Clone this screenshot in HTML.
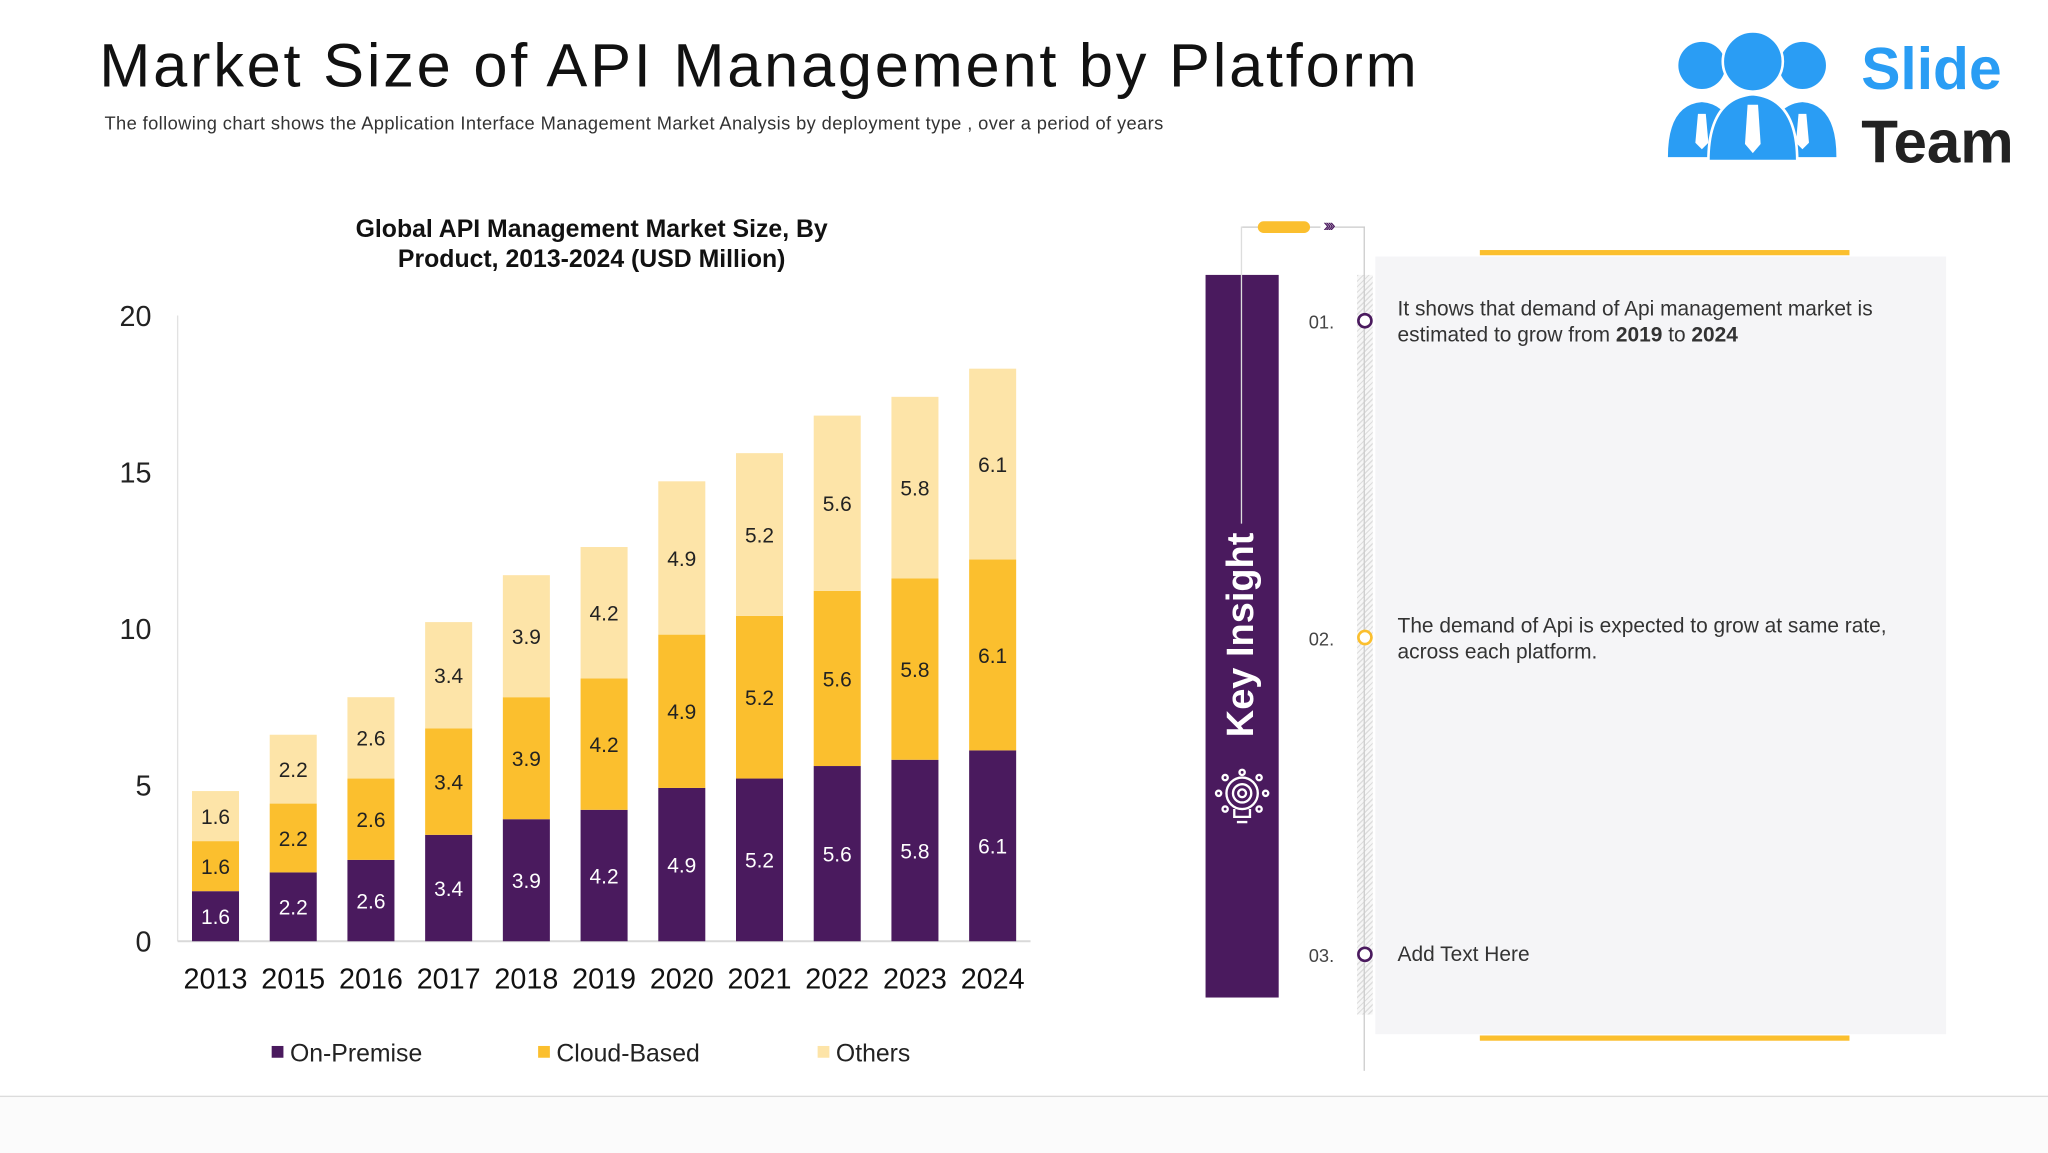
<!DOCTYPE html>
<html><head><meta charset="utf-8">
<style>
html,body{margin:0;padding:0;background:#fff;}
body{width:2048px;height:1152px;overflow:hidden;position:relative;font-family:"Liberation Sans",sans-serif;}
#stage{position:absolute;left:0;top:0;width:1568px;height:880px;transform:scale(1.30612,1.30909);transform-origin:0 0;}
.abs{position:absolute;}
</style></head>
<body>
<div id="stage">
  <div class="abs" style="left:0;top:837px;width:1568px;height:43px;background:#fbfbfb;border-top:1px solid #dcdcdc;"></div>
  <div class="abs" style="left:76px;top:22px;font-size:47px;color:#111;white-space:nowrap;letter-spacing:2.1px;">Market Size of API Management by Platform</div>
  <div class="abs" style="left:80px;top:86px;font-size:14px;color:#333;white-space:nowrap;letter-spacing:0.3px;">The following chart shows the Application Interface Management Market Analysis by deployment type , over a period of years</div>

  <svg class="abs" style="left:1270px;top:20px;" width="290" height="115" viewBox="0 0 290 115">
    <g fill="#2a9df4">
      <circle cx="33" cy="30" r="18"/><circle cx="110" cy="30" r="18"/>
      <path d="M7 100 Q7 60 33 58 Q59 60 59 100 Z"/><path d="M84 100 Q84 60 110 58 Q136 60 136 100 Z"/>
      <circle cx="72" cy="27" r="23" stroke="#fff" stroke-width="2"/>
      <path d="M38 103 Q38 55 72 52 Q106 55 106 103 Z" stroke="#fff" stroke-width="2"/>
    </g>
    <g fill="#fff"><path d="M68 60 h8 l2 30 -6 7 -6 -7 z"/><path d="M30 67 h6 l2 22 -5 5 -5 -5 z"/><path d="M107 67 h6 l2 22 -5 5 -5 -5 z"/></g>
    <text x="155" y="48" font-family="Liberation Sans" font-weight="bold" font-size="45" fill="#2a9df4">Slide</text>
    <text x="155" y="104" font-family="Liberation Sans" font-weight="bold" font-size="46" fill="#222">Team</text>
  </svg>

  <div class="abs" style="left:203px;top:164px;width:500px;text-align:center;font-size:19px;font-weight:bold;line-height:23px;color:#111;">Global API Management Market Size, By<br>Product, 2013-2024 (USD Million)</div>

  <svg id="chart" class="abs" style="left:0;top:0;" width="900" height="840"></svg>

  <div class="abs" style="left:1053px;top:196px;width:437px;height:594px;background:#f5f5f7;"></div>
  <div class="abs" style="left:1133px;top:191px;width:283px;height:4px;background:#fbbf2e;"></div>
  <div class="abs" style="left:1133px;top:791px;width:283px;height:4px;background:#fbbf2e;"></div>
  <div class="abs" style="left:923px;top:210px;width:56px;height:552px;background:#4a1a5e;"></div>
  <div class="abs" style="left:951px;top:173px;width:94px;height:0;border-top:1px solid #ccc;"></div>
  <div class="abs" style="left:950px;top:173px;width:1px;height:227px;background:#ddd;"></div>
  <div class="abs" style="left:1039px;top:210px;width:12px;height:565px;background:repeating-linear-gradient(135deg,#ddd 0 1px,#f7f7f7 1px 3px);"></div>
  <div class="abs" style="left:1044px;top:173px;width:1px;height:645px;background:#ccc;"></div>
  <div class="abs" style="left:963px;top:169px;width:40px;height:9px;border-radius:5px;background:#fbbf2e;"></div>
  <div class="abs" style="left:1011px;top:164px;font-size:14px;line-height:16px;background:#fff;padding:0 2px;color:#4a1a5e;letter-spacing:-3px;">››››</div>
  <div class="abs" style="left:951px;top:485px;transform:translate(-50%,-50%) rotate(-90deg);white-space:nowrap;color:#fff;font-weight:bold;font-size:29px;">Key Insight</div>
  <svg class="abs" style="left:927px;top:586px;" width="48" height="48" viewBox="0 0 48 48">
    <g fill="none" stroke="#fff" stroke-width="1.8">
      <circle cx="24" cy="20" r="12"/><circle cx="24" cy="20" r="7"/><circle cx="24" cy="20" r="3"/>
      <path d="M18 32 v6 h12 v-6"/><path d="M20 42 h8"/>
      <circle cx="24" cy="4" r="2"/><circle cx="6" cy="20" r="2"/><circle cx="42" cy="20" r="2"/>
      <circle cx="11" cy="8" r="2"/><circle cx="37" cy="8" r="2"/><circle cx="11" cy="32" r="2"/><circle cx="37" cy="32" r="2"/>
    </g>
  </svg>

  <div class="abs" style="left:1039px;top:239px;width:8px;height:8px;border:2px solid #4a1a5e;border-radius:50%;background:#fff;"></div>
  <div class="abs" style="left:1039px;top:481px;width:8px;height:8px;border:2px solid #fbbf2e;border-radius:50%;background:#fff;"></div>
  <div class="abs" style="left:1039px;top:723px;width:8px;height:8px;border:2px solid #4a1a5e;border-radius:50%;background:#fff;"></div>
  <div class="abs" style="left:1002px;top:238px;font-size:14px;color:#444;">01.</div>
  <div class="abs" style="left:1002px;top:480px;font-size:14px;color:#444;">02.</div>
  <div class="abs" style="left:1002px;top:722px;font-size:14px;color:#444;">03.</div>
  <div class="abs" style="left:1070px;top:227px;width:400px;font-size:16px;line-height:20px;color:#333;">It shows that demand of Api management market is estimated to grow from <b>2019</b> to <b>2024</b></div>
  <div class="abs" style="left:1070px;top:469px;width:400px;font-size:16px;line-height:20px;color:#333;">The demand of Api is expected to grow at same rate, across each platform.</div>
  <div class="abs" style="left:1070px;top:720px;width:400px;font-size:16px;line-height:20px;color:#333;">Add Text Here</div>
</div>

<script>
const categories = ["2013","2015","2016","2017","2018","2019","2020","2021","2022","2023","2024"];
const onPremise = [1.6,2.2,2.6,3.4,3.9,4.2,4.9,5.2,5.6,5.8,6.1];
const cloudBased = [1.6,2.2,2.6,3.4,3.9,4.2,4.9,5.2,5.6,5.8,6.1];
const others = [1.6,2.2,2.6,3.4,3.9,4.2,4.9,5.2,5.6,5.8,6.1];
const yTicks = [0,5,10,15,20];
const seriesNames = ["On-Premise","Cloud-Based","Others"];

const NS = "http://www.w3.org/2000/svg";
const svg = document.getElementById("chart");
const X0 = 136, X1 = 789, Y0 = 719, Y1 = 241, YMAX = 20;
const padL = 29;
const step = (X1 - X0 - 2 * padL) / (categories.length - 1);
const barW = 36;
function y(v){ return Y0 - (v / YMAX) * (Y0 - Y1); }
function xc(i){ return X0 + padL + step * i; }
function mk(tag, attrs, parent){ const e = document.createElementNS(NS, tag); for (const k in attrs) e.setAttribute(k, attrs[k]); (parent||svg).appendChild(e); return e; }

const yAxis = mk("line",{x1:X0,x2:X0,y1:Y1,y2:Y0,stroke:"#e2e2e2","stroke-width":1});


const xAxis = mk("line",{x1:X0,x2:X1,y1:Y0,y2:Y0,stroke:"#d9d9d9","stroke-width":1.5});



yTicks.forEach(t => {
  const tx = mk("text",{x:116,y:y(t)+8,"text-anchor":"end","font-size":22,"font-family":"Liberation Sans",fill:"#222"});
  tx.textContent = t;
  
  
});

const series = [onPremise, cloudBased, others];
const colors = ["#4a1a5e","#fbbf2e","#fde4a8"];
const textColors = ["#ffffff","#222","#222"];
categories.forEach((c, i) => {
  let base = 0;
  series.forEach((s, k) => {
    const v = s[i];
    const r = mk("rect",{x:xc(i)-barW/2,y:y(base+v),width:barW,height:y(base)-y(base+v),fill:colors[k]});
    
    
    const lb = mk("text",{x:xc(i),y:(y(base)+y(base+v))/2+6,"text-anchor":"middle","font-size":16,"font-family":"Liberation Sans",fill:textColors[k]});
    lb.textContent = v;
    
    
    base += v;
  });
  const xl = mk("text",{x:xc(i),y:755,"text-anchor":"middle","font-size":22,"font-family":"Liberation Sans",fill:"#111"});
  xl.textContent = c;
  
  
});

const legendX = [208, 412, 626];
seriesNames.forEach((n, k) => {
  const sq = mk("rect",{x:legendX[k],y:799,width:9,height:9,fill:colors[k]});
  
  
  const t = mk("text",{x:legendX[k]+14,y:811,"font-size":19,"font-family":"Liberation Sans",fill:"#222"});
  t.textContent = n;
  
  
});
</script>
</body></html>
